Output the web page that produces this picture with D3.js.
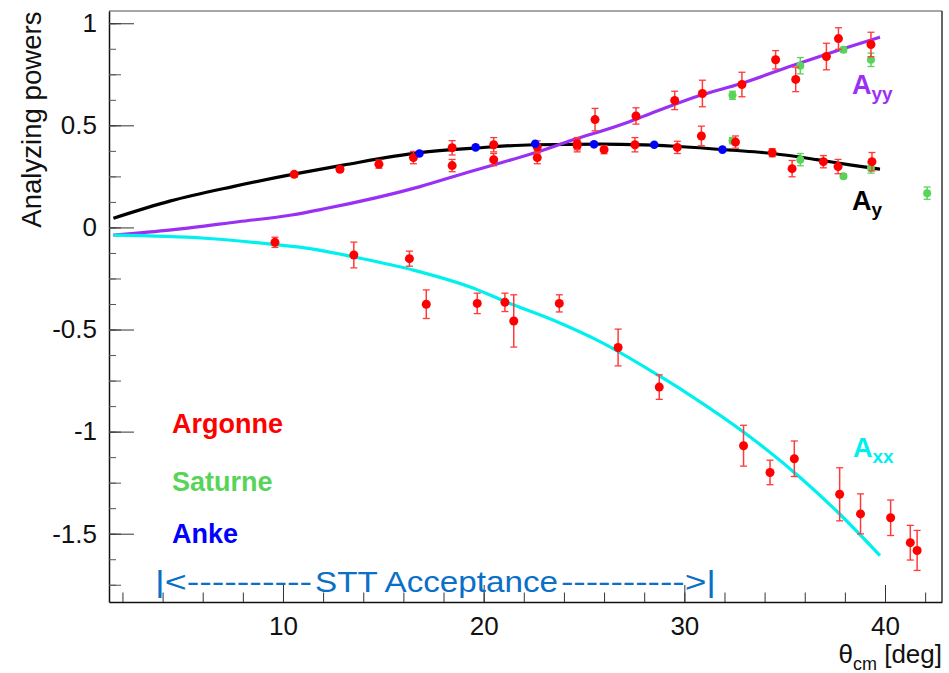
<!DOCTYPE html>
<meta charset="utf-8">
<head>
  <meta charset="UTF-8" />
  <title>Analyzing powers</title>
  <script src="https://d3js.org/d3.v7.min.js"></script>
</head>
<style>
  body { margin: 0; background: #fff; }
  text { font-family: "Liberation Sans", Arial, Helvetica, sans-serif; }
</style>

<div id="my_dataviz"></div>

<script>
  // measured points: [theta_cm (deg), value, error]
  var argonneAy = [
    [10.56, 0.26, 0.012], [12.84, 0.285, 0.012], [14.78, 0.31, 0.02], [16.5, 0.342, 0.03],
    [18.43, 0.39, 0.035], [18.43, 0.303, 0.03], [20.5, 0.405, 0.035], [20.5, 0.332, 0.03],
    [22.67, 0.342, 0.03], [24.66, 0.40, 0.03], [26.0, 0.381, 0.02], [27.54, 0.405, 0.035],
    [29.65, 0.392, 0.03], [30.85, 0.448, 0.048], [32.55, 0.418, 0.03], [34.38, 0.366, 0.02],
    [35.37, 0.288, 0.04], [36.93, 0.322, 0.03], [37.66, 0.298, 0.035], [39.35, 0.322, 0.045]
  ]
  var argonneAyy = [
    [22.67, 0.394, 0.03], [24.66, 0.41, 0.03], [25.55, 0.528, 0.055], [27.59, 0.546, 0.04],
    [29.52, 0.622, 0.045], [30.9, 0.656, 0.065], [32.87, 0.70, 0.06], [34.55, 0.821, 0.045],
    [35.55, 0.725, 0.06], [37.08, 0.837, 0.065], [37.68, 0.925, 0.053], [39.3, 0.896, 0.06]
  ]
  var argonneAxx = [
    [9.6, -0.073, 0.025], [13.53, -0.135, 0.063], [16.3, -0.153, 0.037], [17.14, -0.376, 0.07],
    [19.68, -0.372, 0.05], [21.06, -0.367, 0.045], [21.5, -0.458, 0.128], [23.77, -0.372, 0.042],
    [26.7, -0.588, 0.09], [28.75, -0.782, 0.06], [32.95, -1.069, 0.1], [34.27, -1.2, 0.06],
    [35.48, -1.133, 0.087], [37.74, -1.307, 0.13], [38.78, -1.403, 0.098], [40.28, -1.422, 0.087],
    [41.26, -1.544, 0.085], [41.6, -1.582, 0.098]
  ]
  var saturneAy = [
    [32.4, 0.425, 0.015], [35.78, 0.332, 0.03], [37.93, 0.251, 0.01], [39.3, 0.291, 0.025], [42.1, 0.168, 0.03]
  ]
  var saturneAyy = [
    [32.4, 0.647, 0.02], [35.78, 0.792, 0.04], [37.93, 0.87, 0.012], [39.3, 0.821, 0.033]
  ]
  var ankeAy = [
    [16.8, 0.362, 0], [19.6, 0.392, 0], [22.57, 0.41, 0], [25.5, 0.407, 0], [28.5, 0.405, 0], [31.9, 0.381, 0]
  ]

  // model curves: [theta_cm, value]
  var curveAy = [
    [1.55, 0.045], [4.4, 0.13], [7.5, 0.2], [10.6, 0.262], [13, 0.305], [16.83, 0.366], [19.5, 0.388],
    [22.47, 0.405], [25.8, 0.408], [28, 0.404], [30.1, 0.394], [32.4, 0.378], [34.4, 0.362],
    [36.6, 0.332], [38.25, 0.306], [39.75, 0.285]
  ]
  var curveAyy = [
    [1.55, -0.038], [4.45, -0.012], [7.77, 0.028], [10.43, 0.061], [12, 0.09], [16.83, 0.2],
    [19.3, 0.273], [20.48, 0.306], [22.47, 0.363], [24.46, 0.429], [26.8, 0.502], [28.3, 0.557],
    [30.8, 0.647], [32.8, 0.704], [35.4, 0.793], [37.75, 0.87], [39.75, 0.932]
  ]
  var curveAxx = [
    [1.55, -0.038], [6.1, -0.053], [9.6, -0.084], [11.43, -0.105], [13.5, -0.144], [16.5, -0.209],
    [19.5, -0.298], [21.1, -0.364], [23.45, -0.453], [25.8, -0.559], [28.8, -0.73], [30.1, -0.81],
    [33.4, -1.035], [35.8, -1.227], [37.6, -1.39], [39.75, -1.607]
  ]

  var xMajor = [10, 20, 30, 40]
  var yMajor = [-1.5, -1, -0.5, 0, 0.5, 1]
  var experiments = ["Argonne", "Saturne", "Anke"]

  var width = 949, height = 673
  var padL = 109, padR = 942, padT = 11, padB = 602

  var svg = d3.select("#my_dataviz")
    .append("svg")
      .attr("width", width)
      .attr("height", height)

  svg.append("rect").attr("width", width).attr("height", height).attr("fill", "white")

  var x = d3.scaleLinear().domain([1.33, 42.84]).range([padL, padR])
  var y = d3.scaleLinear().domain([-1.8345, 1.06]).range([padB, padT])

  // frame top / right
  svg.append("line").attr("x1", padL).attr("x2", padR).attr("y1", padT).attr("y2", padT)
    .attr("stroke", "#888").attr("stroke-width", 1.5)
  svg.append("line").attr("x1", padR).attr("x2", padR).attr("y1", padT).attr("y2", padB)
    .attr("stroke", "#333").attr("stroke-width", 1.5)

  // x axis: minor ticks every 2, major every 10 (ticks point inside)
  svg.append("g")
    .attr("transform", "translate(0," + padB + ")")
    .call(d3.axisBottom(x).tickValues(d3.range(2, 43, 2)).tickSize(-9.5).tickSizeOuter(0).tickFormat(""))
    .call(g => g.select(".domain").attr("stroke", "#111").attr("stroke-width", 1.5))
    .call(g => g.selectAll(".tick line").attr("stroke", "#333"))

  svg.append("g")
    .attr("transform", "translate(0," + padB + ")")
    .call(d3.axisBottom(x).tickValues(xMajor).tickSize(-17).tickSizeOuter(0).tickPadding(15).tickFormat(d => String(d)))
    .call(g => g.select(".domain").remove())
    .call(g => g.selectAll(".tick line").attr("stroke", "#333"))
    .call(g => g.selectAll("text").attr("font-size", 26).attr("fill", "#111")
      .attr("font-family", "'Liberation Sans', Arial, sans-serif"))

  // y axis: 0.125 small, 0.25 medium, 0.5 major
  svg.append("g")
    .attr("transform", "translate(" + padL + ",0)")
    .call(d3.axisLeft(y).tickValues(d3.range(-1.75, 1.01, 0.125)).tickSize(-7).tickSizeOuter(0).tickFormat(""))
    .call(g => g.select(".domain").attr("stroke", "#111").attr("stroke-width", 1.5))
    .call(g => g.selectAll(".tick line").attr("stroke", "#555"))

  svg.append("g")
    .attr("transform", "translate(" + padL + ",0)")
    .call(d3.axisLeft(y).tickValues(d3.range(-1.75, 1.01, 0.25)).tickSize(-12).tickSizeOuter(0).tickFormat(""))
    .call(g => g.select(".domain").remove())
    .call(g => g.selectAll(".tick line").attr("stroke", "#555"))

  svg.append("g")
    .attr("transform", "translate(" + padL + ",0)")
    .call(d3.axisLeft(y).tickValues(yMajor).tickSize(-25).tickSizeOuter(0).tickPadding(12).tickFormat(d => String(d)))
    .call(g => g.select(".domain").remove())
    .call(g => g.selectAll(".tick line").attr("stroke", "#333"))
    .call(g => g.selectAll("text").attr("font-size", 26).attr("fill", "#111")
      .attr("font-family", "'Liberation Sans', Arial, sans-serif"))

  // axis titles
  svg.append("text")
    .attr("transform", "translate(41," + (padT + 0.5) + ") rotate(-90)")
    .attr("text-anchor", "end")
    .attr("font-size", 27.6)
    .attr("fill", "#111")
    .text("Analyzing powers")

  var xt = svg.append("text")
    .attr("x", padR)
    .attr("y", 663)
    .attr("text-anchor", "end")
    .attr("font-size", 26)
    .attr("fill", "#111")
  xt.append("tspan").text("θ")
  xt.append("tspan").attr("font-size", 18).attr("dy", 7).text("cm")
  xt.append("tspan").attr("dy", -7).text(" [deg]")

  // curves
  var line = d3.line()
    .x(d => x(d[0]))
    .y(d => y(d[1]))
    .curve(d3.curveMonotoneX)

  var curves = [[curveAy, "#000000"], [curveAyy, "#9b30f5"], [curveAxx, "#00f0f0"]]
  curves.forEach(function (c) {
    svg.append("path")
      .attr("d", line(c[0]))
      .attr("fill", "none")
      .attr("stroke", c[1])
      .attr("stroke-width", 3.2)
  })

  function drawPoints(data, color, barColor, r) {
    var g = svg.append("g")
    var bars = data.filter(d => d[2] > 0)
    g.selectAll("line.err")
      .data(bars)
      .join("line")
        .attr("class", "err")
        .attr("x1", d => x(d[0])).attr("x2", d => x(d[0]))
        .attr("y1", d => y(d[1] - d[2])).attr("y2", d => y(d[1] + d[2]))
        .attr("stroke", barColor).attr("stroke-width", 1.5)
    g.selectAll("line.capLo")
      .data(bars)
      .join("line")
        .attr("class", "capLo")
        .attr("x1", d => x(d[0]) - 3.5).attr("x2", d => x(d[0]) + 3.5)
        .attr("y1", d => y(d[1] - d[2])).attr("y2", d => y(d[1] - d[2]))
        .attr("stroke", barColor).attr("stroke-width", 1.3)
    g.selectAll("line.capHi")
      .data(bars)
      .join("line")
        .attr("class", "capHi")
        .attr("x1", d => x(d[0]) - 3.5).attr("x2", d => x(d[0]) + 3.5)
        .attr("y1", d => y(d[1] + d[2])).attr("y2", d => y(d[1] + d[2]))
        .attr("stroke", barColor).attr("stroke-width", 1.3)
    g.selectAll("circle")
      .data(data)
      .join("circle")
        .attr("cx", d => x(d[0]))
        .attr("cy", d => y(d[1]))
        .attr("r", r)
        .attr("fill", color)
  }

  var red = "#ff0000", green = "#58d458", blue = "#0000ff"
  drawPoints(saturneAy, green, "#58d458", 4)
  drawPoints(saturneAyy, green, "#58d458", 4)
  drawPoints(argonneAy, red, "#ff3a3a", 4.5)
  drawPoints(argonneAyy, red, "#ff3a3a", 4.5)
  drawPoints(argonneAxx, red, "#ff3a3a", 4.5)
  drawPoints(ankeAy, blue, blue, 4.3)

  // curve labels
  function subLabel(xp, yp, main, sub, color) {
    var t = svg.append("text")
      .attr("x", xp).attr("y", yp)
      .attr("font-size", 27)
      .attr("font-weight", "bold")
      .attr("fill", color)
    t.append("tspan").text(main)
    t.append("tspan").attr("font-size", 19).attr("dy", 6).text(sub)
  }
  subLabel(852, 94, "A", "yy", "#9b30f5")
  subLabel(852, 210, "A", "y", "#000000")
  subLabel(853, 457, "A", "xx", "#00f0f0")

  // experiment legend
  var legendColors = [red, green, blue]
  var legendY = [433, 491, 543]
  experiments.forEach(function (name, i) {
    svg.append("text")
      .attr("x", 172)
      .attr("y", legendY[i])
      .attr("font-size", 27)
      .attr("font-weight", "bold")
      .attr("fill", legendColors[i])
      .text(name)
  })

  // STT acceptance marker
  var stt = [["|<----------", 155, 157], ["STT Acceptance", 315, 243], ["---------->|", 561, 155]]
  stt.forEach(function (s) {
    svg.append("text")
      .attr("x", s[1])
      .attr("y", 592)
      .attr("font-size", 29)
      .attr("font-family", "'Comic Sans MS', 'DejaVu Sans', sans-serif")
      .attr("fill", "#0a6fc6")
      .attr("textLength", s[2])
      .attr("lengthAdjust", "spacingAndGlyphs")
      .text(s[0])
  })
</script>
